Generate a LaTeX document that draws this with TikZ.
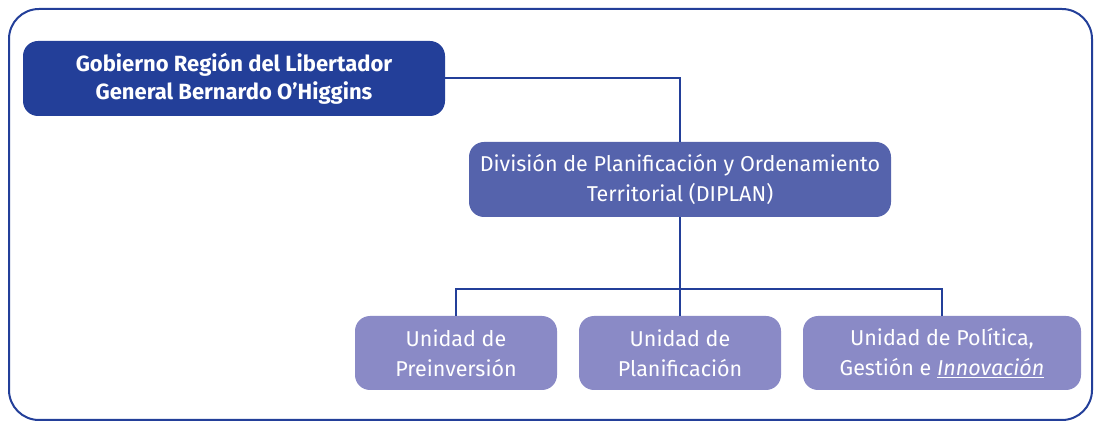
\documentclass[tikz,border=0pt]{standalone}
\usepackage{fontspec}
\setmainfont{Fira Sans}
\usetikzlibrary{positioning}
\definecolor{gobblue}{HTML}{233F99}
\definecolor{divblue}{HTML}{5563AC}
\definecolor{unitblue}{HTML}{8A8AC6}
\tikzset{
gobbox/.style={
	  fill=gobblue, text=white, rounded corners=15pt, align=center,
	    minimum width=422pt, minimum height=75pt, font=\fontsize{22}{28}\selectfont\bfseries},
divbox/.style={
	  fill=divblue, text=white, rounded corners=15pt, align=center,
	    minimum width=422pt, minimum height=75pt, font=\fontsize{21.5}{30}\selectfont},
unitbox/.style={
	  fill=unitblue, text=white, rounded corners=15pt, align=center,
	    minimum height=74pt, font=\fontsize{21.5}{30}\selectfont},
link/.style={draw=gobblue, line width=2pt}
}

\begin{document}
\begin{tikzpicture}[x=1pt, y=1pt]
	\useasboundingbox (0,0) rectangle (1095,423);
	\draw[gobblue, line width=2pt, rounded corners=30pt] (9,3) rectangle (1092,414);
	\node[gobbox] (gob) at (234,344.5) {Gobierno Región del Libertador\\General Bernardo O’Higgins};
	\node[divbox] (diplan) at (680,243.5) {División de Planificación y Ordenamiento\\Territorial (DIPLAN)};
	\node[unitbox, minimum width=202pt] (preinv) at (456,70) {Unidad de\\Preinversión};
	\node[unitbox, minimum width=202pt] (planif) at (680,70) {Unidad de\\Planificación};
	\node[unitbox, minimum width=278pt] (polit) at (942,70) {Unidad de Política,\\Gestión e \underline{\textit{Innovación}}};
	\coordinate (bar) at (680,134);
	\draw[link] (gob.east) -| (diplan.north);
	\draw[link] (diplan.south) -- (bar);
	\draw[link] (bar) -| (preinv.north);
	\draw[link] (bar) -- (planif.north);
	\draw[link] (bar) -| (polit.north);
\end{tikzpicture}
\end{document}
